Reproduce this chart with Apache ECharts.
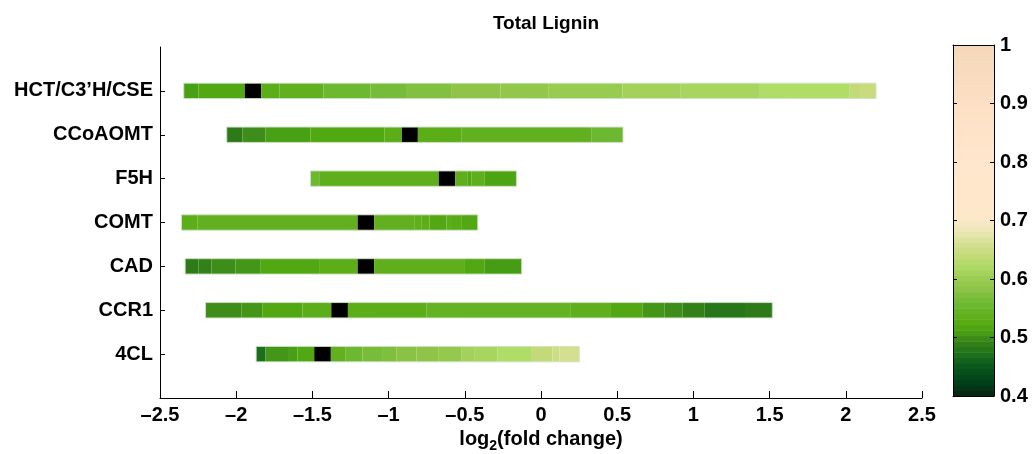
<!DOCTYPE html>
<html>
<head>
<meta charset="utf-8">
<script src="https://cdn.jsdelivr.net/npm/echarts@6/dist/echarts.min.js"></script>
<style>html,body{margin:0;padding:0;background:#fff}#c{width:1033px;height:454px}</style>
</head>
<body>
<div id="c"></div>
<script>
// ---- data ----
const categories = ['4CL','CCR1','CAD','COMT','F5H','CCoAOMT','HCT/C3\u2019H/CSE'];
const xTicks = [-2.5,-2,-1.5,-1,-0.5,0,0.5,1,1.5,2,2.5];
const cbTicks = [0.4,0.5,0.6,0.7,0.8,0.9,1];
// segment edges (log2 fold change) and segment values (null = black marker)
const edges_4CL = [-1.869,-1.808,-1.654,-1.597,-1.488,-1.379,-1.285,-1.171,-1.043,-0.947,-0.817,-0.675,-0.524,-0.439,-0.287,-0.060,0.075,0.121,0.251];
const vals_4CL  = [0.47,0.505,0.51,0.52,null,0.54,0.555,0.567,0.573,0.58,0.585,0.595,0.61,0.615,0.625,0.64,0.65,0.66];
const edges_CCR1 = [-2.201,-1.966,-1.829,-1.566,-1.376,-1.267,-0.750,0.196,0.459,0.665,0.810,0.928,1.074,1.345,1.518];
const vals_CCR1  = [0.50,0.505,0.52,0.53,null,0.53,0.545,0.535,0.52,0.505,0.50,0.49,0.48,0.485];
const edges_CAD = [-2.335,-2.247,-2.162,-2.005,-1.839,-1.451,-1.203,-1.095,-0.499,-0.372,-0.127];
const vals_CAD  = [0.485,0.49,0.50,0.505,0.52,0.53,null,0.535,0.52,0.508];
const edges_COMT = [-2.359,-2.253,-1.203,-1.095,-0.832,-0.786,-0.732,-0.620,-0.584,-0.524,-0.415];
const vals_COMT  = [0.53,0.54,null,0.54,0.535,0.53,0.52,0.53,0.525,0.52];
const edges_F5H = [-1.512,-1.451,-0.671,-0.562,-0.484,-0.455,-0.369,-0.161];
const vals_F5H  = [0.555,0.535,null,0.535,0.52,0.535,0.515];
const edges_CCoAOMT = [-2.062,-1.959,-1.808,-1.512,-1.028,-0.913,-0.808,-0.520,0.333,0.538];
const vals_CCoAOMT  = [0.485,0.50,0.51,0.52,0.53,null,0.53,0.54,0.555];
const edges_HCT = [-2.344,-2.247,-1.944,-1.836,-1.715,-1.427,-1.119,-0.886,-0.590,-0.266,0.051,0.535,0.913,1.436,2.026,2.093,2.198];
const vals_HCT  = [0.51,0.52,null,0.53,0.54,0.555,0.565,0.575,0.585,0.59,0.60,0.61,0.615,0.625,0.64,0.645];

const rows = [
  [edges_4CL, vals_4CL], [edges_CCR1, vals_CCR1], [edges_CAD, vals_CAD],
  [edges_COMT, vals_COMT], [edges_F5H, vals_F5H], [edges_CCoAOMT, vals_CCoAOMT],
  [edges_HCT, vals_HCT]
];

// ---- colour map ----
const colorStops = [[0.40,'#0b2012'],[0.42,'#003c18'],[0.45,'#0a561c'],[0.47,'#1a6e1c'],[0.485,'#2e7a18'],[0.50,'#3e8c1a'],[0.51,'#48a014'],[0.52,'#52a812'],[0.53,'#5cae18'],[0.54,'#62b020'],[0.555,'#6cb830'],[0.57,'#7abe3c'],[0.585,'#90c448'],[0.60,'#98cc50'],[0.615,'#a8d460'],[0.625,'#b0dc68'],[0.64,'#c4da78'],[0.66,'#d4e090'],[0.68,'#e8e6b4'],[0.695,'#f6e8c4'],[0.70,'#fee8ca'],[0.80,'#fee6cc'],[0.90,'#fde0c4'],[0.95,'#f9dcc0'],[1.0,'#f3d8b8']];
function hex2rgb(h){return [parseInt(h.slice(1,3),16),parseInt(h.slice(3,5),16),parseInt(h.slice(5,7),16)];}
function cmap(v){
  if (v === null) return '#000';
  if (v <= colorStops[0][0]) return colorStops[0][1];
  for (let i=1;i<colorStops.length;i++){
    if (v <= colorStops[i][0]){
      const [a,ca]=colorStops[i-1],[b,cb]=colorStops[i];
      const t=(v-a)/(b-a), A=hex2rgb(ca), B=hex2rgb(cb);
      return 'rgb('+A.map((x,k)=>Math.round(x+(B[k]-x)*t)).join(',')+')';
    }
  }
  return colorStops[colorStops.length-1][1];
}

// ---- build series data ----
const segData = [];
const outlineData = [];
rows.forEach(([e,v],ri)=>{
  for(let i=0;i<v.length;i++) segData.push([e[i],e[i+1],ri+1,v[i]]);
  outlineData.push([e[0],e[e.length-1],ri+1]);
});
const nSteps = 64;
const cbData = [];
for(let i=0;i<nSteps;i++){
  const a=0.4+0.6*i/nSteps, b=0.4+0.6*(i+1)/nSteps;
  cbData.push([a,b,(a+b)/2]);
}

const font = '"Liberation Sans", Arial, sans-serif';
const lbl = {color:'#000', fontFamily:font, fontWeight:'bold', fontSize:20};
const fmtNum = v => (v<0 ? '\u2013'+String(Math.abs(v)) : String(v));

const chart = echarts.init(document.getElementById('c'), null, {renderer:'canvas'});
chart.setOption({
  animation:false,
  backgroundColor:'#fff',
  title:{text:'Total Lignin', left:541, top:9, textAlign:'center',
    textStyle:{fontFamily:font, fontWeight:'bold', fontSize:19, color:'#000'}},
  grid:[
    {left:160, right:111, top:47, bottom:56, outerBoundsMode:'none', containLabel:false},
    {left:953, width:41, top:45, height:351, outerBoundsMode:'none', containLabel:false}
  ],
  xAxis:[
    {gridIndex:0, type:'value', min:-2.5, max:2.5, interval:0.5, z:10,
     axisLine:{show:true, onZero:false, lineStyle:{color:'#000', width:1}},
     axisTick:{show:true, inside:true, length:7, lineStyle:{color:'#000'}},
     axisLabel:Object.assign({formatter:fmtNum, margin:7}, lbl),
     splitLine:{show:false},
     name:'{a|log}{b|2}{a|(fold change)}', nameLocation:'middle', nameGap:25,
     nameTextStyle:{rich:{
       a:{fontFamily:font, fontWeight:'bold', fontSize:20, color:'#000'},
       b:{fontFamily:font, fontWeight:'bold', fontSize:14, color:'#000', padding:[12,0,0,0]}
     }}},
    {gridIndex:1, type:'value', min:0, max:1, show:true, position:'bottom', z:10,
     axisLine:{show:true, onZero:false, lineStyle:{color:'#000'}}, axisTick:{show:false}, axisLabel:{show:false}, splitLine:{show:false}},
    {gridIndex:1, type:'value', min:0, max:1, show:true, position:'top', z:10,
     axisLine:{show:true, onZero:false, lineStyle:{color:'#000'}}, axisTick:{show:false}, axisLabel:{show:false}, splitLine:{show:false}}
  ],
  yAxis:[
    {gridIndex:0, type:'category', data:[''].concat(categories).concat(['']), boundaryGap:false, z:10,
     axisLine:{show:true, onZero:false, lineStyle:{color:'#000'}},
     axisTick:{show:true, inside:true, length:5, interval:(i,v)=>v!=='', lineStyle:{color:'#000'}},
     axisLabel:Object.assign({interval:0, margin:7}, lbl),
     splitLine:{show:false}},
    {gridIndex:1, type:'value', min:0.4, max:1, interval:0.1, position:'right', z:10,
     axisLine:{show:true, onZero:false, lineStyle:{color:'#000'}},
     axisTick:{show:true, inside:true, length:4, lineStyle:{color:'#000'}},
     axisLabel:Object.assign({formatter:v=>String(+v.toFixed(1)), margin:6}, lbl),
     splitLine:{show:false}},
    {gridIndex:1, type:'value', min:0.4, max:1, interval:0.1, position:'left', z:10,
     axisLine:{show:true, onZero:false, lineStyle:{color:'#000'}},
     axisTick:{show:true, inside:true, length:4, lineStyle:{color:'#000'}},
     axisLabel:{show:false}, splitLine:{show:false}}
  ],
  series:[
    {type:'custom', xAxisIndex:0, yAxisIndex:0, data:segData, encode:{x:[0,1], y:2},
     renderItem:(params, api)=>{
       const p0=api.coord([api.value(0), api.value(2)]);
       const p1=api.coord([api.value(1), api.value(2)]);
       const h=api.size([0,1])[1]*0.35;
       const v=segData[params.dataIndex][3];
       return {type:'rect', shape:{x:p0[0], y:p0[1]-h/2, width:p1[0]-p0[0], height:h},
         style:{fill:cmap(v), stroke:null}};
     }},
    {type:'custom', xAxisIndex:0, yAxisIndex:0, data:outlineData, encode:{x:[0,1], y:2}, z:3,
     renderItem:(params, api)=>{
       const p0=api.coord([api.value(0), api.value(2)]);
       const p1=api.coord([api.value(1), api.value(2)]);
       const h=api.size([0,1])[1]*0.35;
       return {type:'rect', shape:{x:p0[0], y:p0[1]-h/2, width:p1[0]-p0[0], height:h},
         style:{fill:null, stroke:'rgba(205,225,195,0.9)', lineWidth:1}};
     }},
    {type:'custom', xAxisIndex:1, yAxisIndex:1, data:cbData, z:1,
     renderItem:(params, api)=>{
       const a=api.coord([0, api.value(0)]);
       const b=api.coord([1, api.value(1)]);
       return {type:'rect', shape:{x:a[0], y:b[1], width:b[0]-a[0], height:a[1]-b[1]+0.6},
         style:{fill:cmap(api.value(2)), stroke:null}};
     }}
  ]
});
</script>
</body>
</html>
